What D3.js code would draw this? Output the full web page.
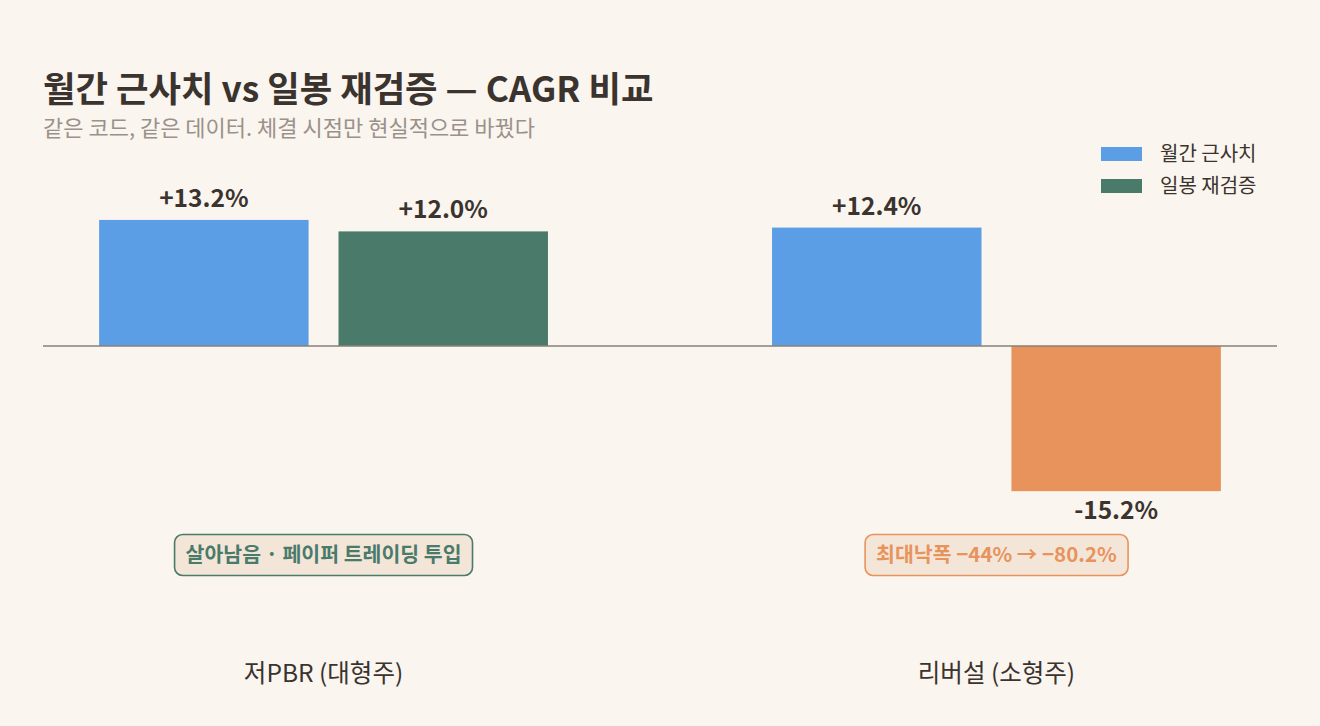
<!DOCTYPE html>
<html>
<head>
<meta charset="utf-8">
<script src="https://cdn.jsdelivr.net/npm/d3@7"></script>
<style>
  html, body { margin: 0; padding: 0; background: #faf5ef; }
  svg { display: block; font-family: "Noto Sans CJK KR", "Noto Sans", sans-serif; }
</style>
</head>
<body>
<div id="chart"></div>
<script>

// ======================= //
// DATA
// ======================= //

var groups = ["저PBR (대형주)", "리버설 (소형주)"]
var seriesNames = ["월간 근사치", "일봉 재검증"]
var monthlyCagr = [13.2, 12.4]
var dailyCagr = [12.0, -15.2]
var notes = ["살아남음 · 페이퍼 트레이딩 투입", "최대낙폭 −44% → −80.2%"]
var noteKinds = ["ok", "bad"]

var titleText = "월간 근사치 vs 일봉 재검증 — CAGR 비교"
var subtitleText = "같은 코드, 같은 데이터. 체결 시점만 현실적으로 바꿨다"

// colours
var seriesColor = { "월간 근사치": "#5b9ee6", "일봉 재검증": "#4a7a6a" }
var negColor = "#e8935c"
var noteColor = { ok: "#4a7a6a", bad: "#e8935c" }
var ink = "#3a332e"

// flatten into rows
var rows = []
groups.forEach(function(g, i){
  rows.push({ group: g, series: seriesNames[0], value: monthlyCagr[i] })
  rows.push({ group: g, series: seriesNames[1], value: dailyCagr[i] })
})


// ======================= //
// SVG, SCALES
// ======================= //

var W = 1320, H = 726
var plotLeft = 43, plotRight = 1277

var svg = d3.select("#chart")
  .append("svg")
    .attr("width", W)
    .attr("height", H)

svg.append("rect")
  .attr("width", W).attr("height", H)
  .attr("fill", "#faf5ef")

var x0 = d3.scaleBand()
  .domain(groups)
  .range([plotLeft, plotRight])
  .paddingInner(0.333)
  .paddingOuter(0.0834)

var x1 = d3.scaleBand()
  .domain(seriesNames)
  .range([0, x0.bandwidth()])
  .paddingInner(0.125)

var y = d3.scaleLinear()
  .domain([-20, 16])
  .range([537, 193.2])


// ======================= //
// TITLE
// ======================= //

svg.append("text")
  .attr("x", 43).attr("y", 102)
  .style("font-size", "35.3px")
  .style("font-weight", 700)
  .style("fill", ink)
  .text(titleText)

svg.append("text")
  .attr("x", 43).attr("y", 136)
  .style("font-size", "22px")
  .style("fill", "#9a918a")
  .text(subtitleText)


// ======================= //
// BARS
// ======================= //

svg.selectAll(".bar")
  .data(rows)
  .enter()
  .append("rect")
    .attr("class", "bar")
    .attr("x", function(d){ return x0(d.group) + x1(d.series) })
    .attr("width", x1.bandwidth())
    .attr("y", function(d){ return y(Math.max(0, d.value)) })
    .attr("height", function(d){ return Math.abs(y(d.value) - y(0)) })
    .attr("fill", function(d){ return d.value < 0 ? negColor : seriesColor[d.series] })

// zero line
svg.append("line")
  .attr("x1", plotLeft).attr("x2", plotRight)
  .attr("y1", y(0)).attr("y2", y(0))
  .attr("stroke", "#8a8078")
  .attr("stroke-width", 1.6)

// value labels
svg.selectAll(".val")
  .data(rows)
  .enter()
  .append("text")
    .attr("class", "val")
    .attr("x", function(d){ return x0(d.group) + x1(d.series) + x1.bandwidth()/2 })
    .attr("y", function(d){ return d.value < 0 ? y(d.value) + 28 : y(d.value) - 13 })
    .attr("text-anchor", "middle")
    .style("font-size", "24.5px")
    .style("font-weight", 700)
    .style("fill", ink)
    .text(function(d){ return (d.value > 0 ? "+" : "") + d.value.toFixed(1) + "%" })


// ======================= //
// NOTES
// ======================= //

groups.forEach(function(g, i){
  var cx = x0(g) + x0.bandwidth()/2
  var c = noteColor[noteKinds[i]]
  var gNote = svg.append("g")
  var t = gNote.append("text")
    .attr("x", cx).attr("y", 562)
    .attr("text-anchor", "middle")
    .style("font-size", "20.5px")
    .style("font-weight", 700)
    .style("fill", c)
    .text(notes[i])
  var bb = t.node().getBBox()
  gNote.insert("rect", "text")
    .attr("x", bb.x - 11).attr("y", 534.5)
    .attr("width", bb.width + 22).attr("height", 41)
    .attr("rx", 8)
    .attr("fill", "#f3e6d8")
    .attr("stroke", c)
    .attr("stroke-width", 1.6)
})


// ======================= //
// CATEGORY LABELS
// ======================= //

svg.selectAll(".cat")
  .data(groups)
  .enter()
  .append("text")
    .attr("class", "cat")
    .attr("x", function(d){ return x0(d) + x0.bandwidth()/2 })
    .attr("y", 682)
    .attr("text-anchor", "middle")
    .style("font-size", "24.5px")
    .style("fill", ink)
    .text(function(d){ return d })


// ======================= //
// LEGEND
// ======================= //

var legend = svg.selectAll(".leg")
  .data(seriesNames)
  .enter()
  .append("g")
    .attr("class", "leg")
    .attr("transform", function(d, i){ return "translate(1101," + (147 + i*32) + ")" })

legend.append("rect")
  .attr("width", 41).attr("height", 14)
  .attr("fill", function(d){ return seriesColor[d] })

legend.append("text")
  .attr("x", 59).attr("y", 14)
  .style("font-size", "20px")
  .style("fill", ink)
  .text(function(d){ return d })

</script>
</body>
</html>
